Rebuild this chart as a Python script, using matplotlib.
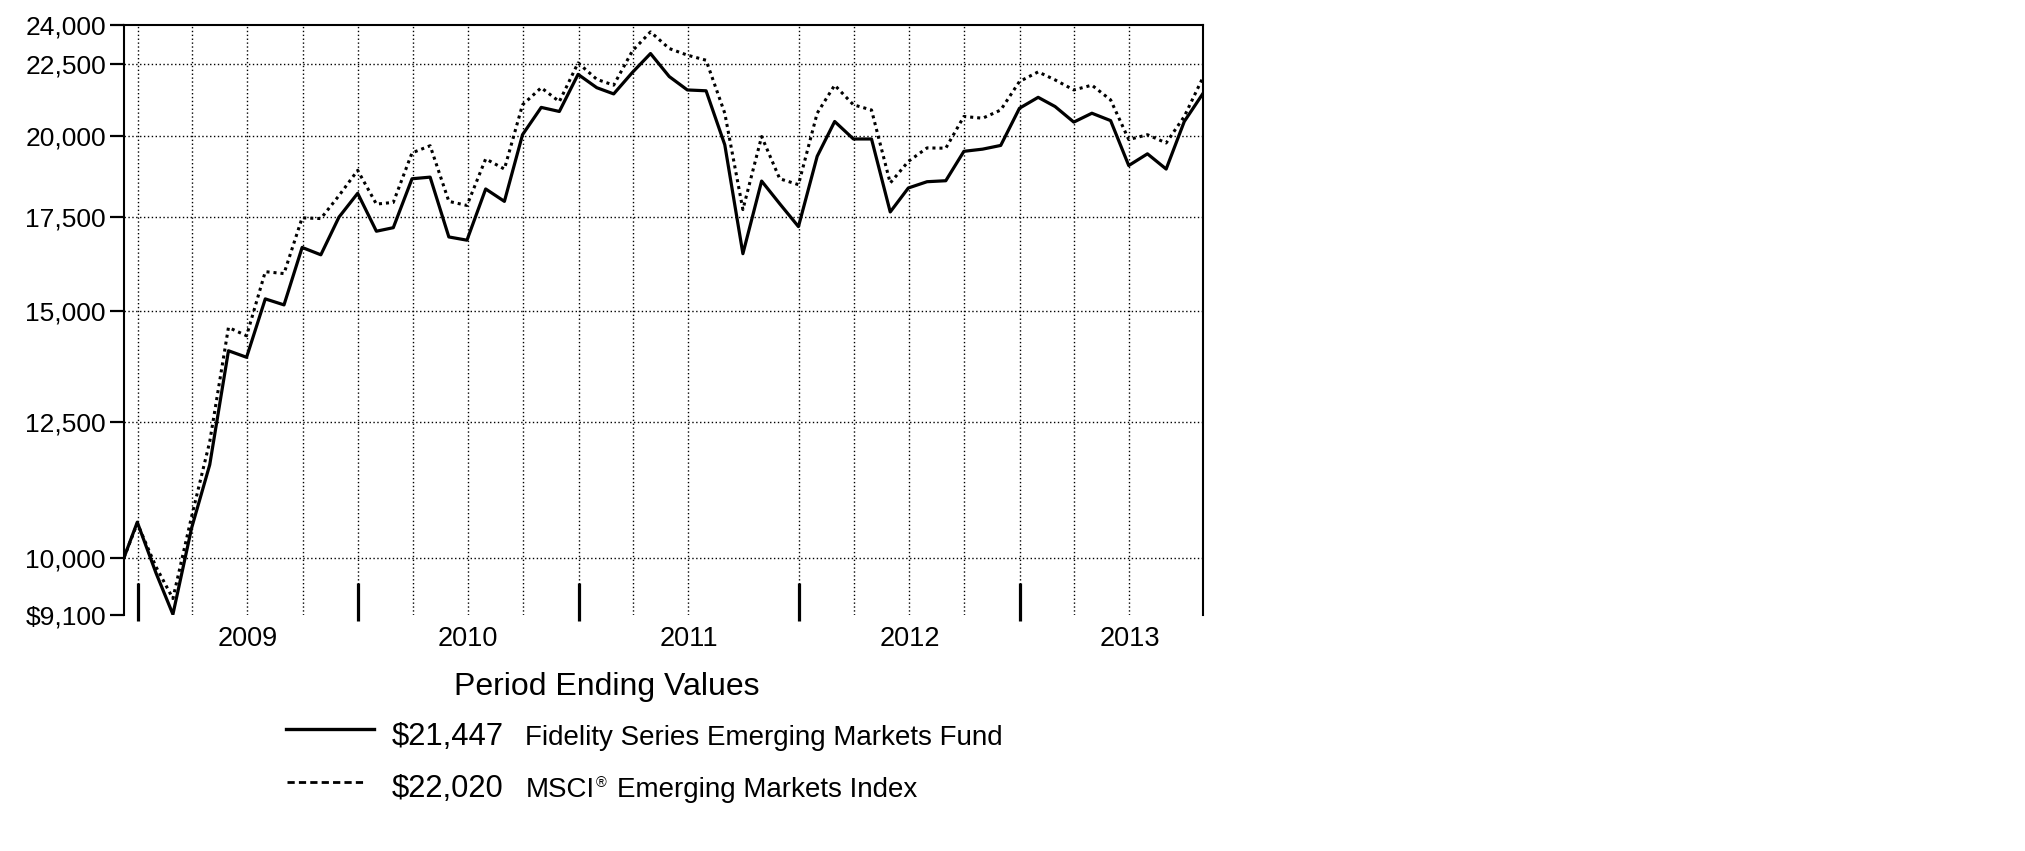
### Growth of $10,000 chart: Fidelity Series Emerging Markets Fund vs MSCI Emerging Markets Index
### Log scale y axis, month-end values from fund start (Dec 9, 2008) to Oct 31, 2013

import matplotlib
matplotlib.use("Agg")
import matplotlib.pyplot as plt
from matplotlib.lines import Line2D
from matplotlib.ticker import NullLocator
import matplotlib.dates as mdates
import pandas as pd

plt.rcParams["font.family"] = ["Liberation Sans", "DejaVu Sans"]

# Dates: the start date, then every month end up to the period end
start_date = "2008-12-09"
first_month_end = "2008-12-31"
last_month_end = "2013-10-31"

# Values (first value is the $10,000 start)
fund_values = [
    10000, 10600,
    9750, 9110, 10500, 11650, 14050, 13900, 15300, 15150, 16650, 16450, 17500, 18200,
    17100, 17200, 18640, 18690, 16940, 16850, 18330, 17960, 20040, 20960, 20820, 22130,
    21650, 21430, 22200, 22900, 22050, 21570, 21540, 19710, 16480, 18570, 17890, 17230,
    19340, 20480, 19900, 19900, 17650, 18360, 18550, 18580, 19500, 19570, 19690, 20930,
    21310, 20990, 20460, 20760, 20510, 19050, 19420, 18940, 20480, 21447,
]
index_values = [
    10000, 10580,
    9850, 9350, 10700, 12100, 14600, 14400, 16000, 15950, 17480, 17460, 18130, 18900,
    17880, 17930, 19450, 19680, 17960, 17840, 19260, 18940, 21050, 21650, 21160, 22550,
    21950, 21740, 23000, 23730, 23090, 22840, 22650, 20760, 17720, 19980, 18640, 18460,
    20760, 21740, 21050, 20870, 18510, 19180, 19610, 19600, 20650, 20590, 20870, 21870,
    22220, 21930, 21570, 21740, 21220, 19880, 20040, 19770, 20650, 22020,
]

fund_name = "Fidelity Series Emerging Markets Fund"
index_name = "Emerging Markets Index"
fund_end_label = "$21,447"
index_end_label = "$22,020"

y_ticks = [9100, 10000, 12500, 15000, 17500, 20000, 22500, 24000]
y_tick_labels = ["$9,100", "10,000", "12,500", "15,000", "17,500", "20,000", "22,500", "24,000"]
years = [2009, 2010, 2011, 2012, 2013]
# quarter gridlines that the original chart leaves out
missing_grid = ["2011-10-01", "2013-10-01"]

dates = [pd.Timestamp(start_date)] + list(pd.date_range(first_month_end, last_month_end, freq="ME"))

W, H = 2025, 851


def fx(x):
    return x / W


def fy(y):
    return 1 - y / H


fig = plt.figure(figsize=(W / 100, H / 100), dpi=100)
ax = fig.add_axes([fx(124), fy(615), fx(1203) - fx(124), fy(25) - fy(615)])

ax.set_yscale("log")
ax.set_ylim(9100, 24000)
ax.set_xlim(dates[0], dates[-1])

# Dotted grid, drawn by hand so the bottom edge and the missing quarters stay empty
for v in y_ticks[1:-1]:
    ax.axhline(v, color="black", lw=1.0, linestyle=(0, (1, 1.8)), zorder=1)
for q in pd.date_range("2009-01-01", last_month_end, freq="QS"):
    if q.strftime("%Y-%m-%d") in missing_grid:
        continue
    ax.axvline(q, color="black", lw=1.0, linestyle=(0, (1, 1.8)), zorder=1)

# The two series
ax.plot(dates, fund_values, color="black", lw=2.3, zorder=3)
ax.plot(dates, index_values, color="black", lw=2.2, linestyle=(0, (1, 1.3)), zorder=3)

# Y axis ticks and labels
ax.yaxis.set_minor_locator(NullLocator())
ax.set_yticks(y_ticks)
ax.set_yticklabels(y_tick_labels, fontsize=19)
ax.tick_params(axis="y", direction="out", length=10, width=1.6, pad=3)

# X axis: year separators inside the plot and year labels centred in each year
ax.set_xticks([])
ax.spines["bottom"].set_visible(False)
for s in ["left", "right", "top"]:
    ax.spines[s].set_linewidth(1.5)

trans = ax.get_xaxis_transform()
for yr in years:
    ax.vlines(pd.Timestamp(f"{yr}-01-01"), -0.0105, 0.054, color="black", lw=2.3,
              transform=trans, clip_on=False, zorder=4)
    mid = mdates.date2num(pd.Timestamp(f"{yr}-07-02"))
    ax.text(mid, -0.0525, str(yr), transform=trans, ha="center", va="baseline", fontsize=19.5)

# Legend block under the chart
fig.text(fx(607), fy(695), "Period Ending Values", ha="center", va="baseline", fontsize=23)

fig.add_artist(Line2D([fx(286), fx(374)], [fy(729), fy(729)], color="black", lw=2.4))
fig.text(fx(392), fy(745), fund_end_label, va="baseline", fontsize=22.3)
fig.text(fx(525), fy(745), fund_name, va="baseline", fontsize=20)

fig.add_artist(Line2D([fx(287), fx(364)], [fy(782), fy(782)], color="black", lw=2.0,
                      linestyle=(0, (2.6, 1.5))))
fig.text(fx(392), fy(797), index_end_label, va="baseline", fontsize=22.3)
fig.text(fx(526), fy(797), "MSCI", va="baseline", fontsize=20)
fig.text(fx(596), fy(787), "®", va="baseline", fontsize=10.5)
fig.text(fx(617), fy(797), index_name, va="baseline", fontsize=20)

fig.savefig("out.png", dpi=100)
